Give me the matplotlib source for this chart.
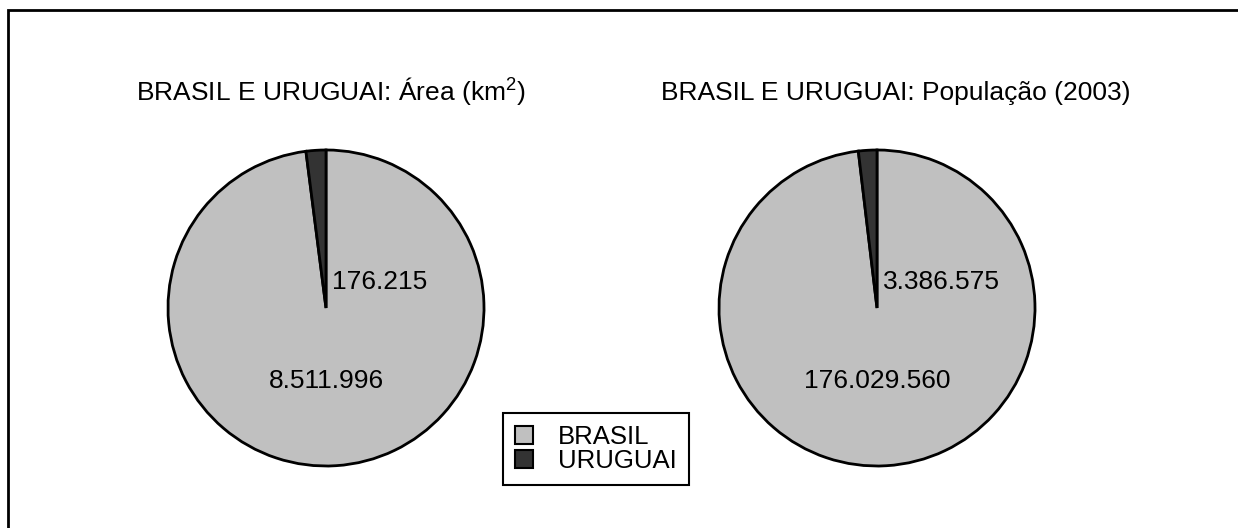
import matplotlib
matplotlib.use('Agg')
import matplotlib.pyplot as plt
from matplotlib.patches import Rectangle, Patch

plt.rcParams['font.family'] = ['Liberation Sans', 'DejaVu Sans']
plt.rcParams['mathtext.fontset'] = 'custom'
plt.rcParams['mathtext.rm'] = 'Liberation Sans'
plt.rcParams['mathtext.default'] = 'regular'

# dados
paises = ['BRASIL', 'URUGUAI']
area_km2 = [8511996, 176215]
populacao_2003 = [176029560, 3386575]
titulos = ['BRASIL E URUGUAI: Área (km$^2$)', 'BRASIL E URUGUAI: População (2003)']
cores = ['#c0c0c0', '#333333']

W, H = 1238, 528


def fmt(v):
    return f'{v:,}'.replace(',', '.')


fig = plt.figure(figsize=(W / 100, H / 100), dpi=100)
ax = fig.add_axes([0, 0, 1, 1])

# moldura
ax.add_patch(Rectangle((8, -20), W + 40, H - 10 + 20, fill=False,
                       edgecolor='black', linewidth=2))

raio = 158
centros = [(326, H - 308), (877, H - 308)]
titulo_x = [331, 896]

for valores, titulo, (cx, cy), tx in zip([area_km2, populacao_2003], titulos, centros, titulo_x):
    ax.pie(valores, colors=cores, startangle=90, counterclock=False,
           center=(cx, cy), radius=raio, frame=True,
           wedgeprops=dict(edgecolor='black', linewidth=2))
    ax.text(tx, H - 100, titulo, ha='center', va='baseline', fontsize=19)
    # rótulos dos valores
    ax.text(cx + 6, cy + 26, fmt(valores[1]), ha='left', va='center', fontsize=19)
    ax.text(cx, cy - 73, fmt(valores[0]), ha='center', va='center', fontsize=19)

ax.set_xlim(0, W)
ax.set_ylim(0, H)
ax.set_aspect('equal')
ax.axis('off')

handles = [Patch(facecolor=c, edgecolor='black', linewidth=1.5) for c in cores]
leg = fig.legend(handles, paises, loc='upper left',
                 bbox_to_anchor=(503 / W, 1 - 413 / H), fontsize=18.5,
                 handlelength=0.7, handleheight=0.7, handletextpad=1.0,
                 labelspacing=0.02, borderpad=0.45, borderaxespad=0,
                 fancybox=False, framealpha=1, edgecolor='black')
leg.get_frame().set_linewidth(1.5)

fig.savefig('out.png', dpi=100)
